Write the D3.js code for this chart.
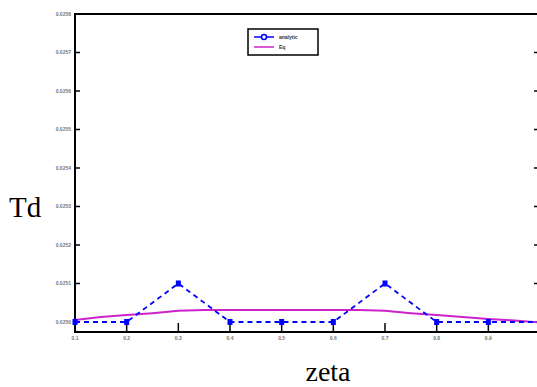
<!DOCTYPE html>
<html>
<head>
<meta charset="utf-8">
<script src="https://cdn.jsdelivr.net/npm/d3@7"></script>
<style>
  body { margin: 0; background: #fff; }
  svg { display: block; }
</style>
</head>
<body>
<svg id="chart" width="537" height="387"></svg>
<script>
const W = 537, H = 387;

// data
const zeta = [0.1, 0.2, 0.3, 0.4, 0.5, 0.6, 0.7, 0.8, 0.9, 1.0];
const tdNum = [0.02500, 0.02500, 0.02510, 0.02500, 0.02500, 0.02500, 0.02510, 0.02500, 0.02500, 0.02500];
const zetaEq = [0.1, 0.15, 0.2, 0.25, 0.3, 0.35, 0.4, 0.5, 0.6, 0.65, 0.7, 0.75, 0.8, 0.85, 0.9, 0.95, 1.0];
const tdEq = [0.025005, 0.025013, 0.025018, 0.025023, 0.025029, 0.025031, 0.025031, 0.025031, 0.025031, 0.025031,
              0.025029, 0.025023, 0.025018, 0.025013, 0.025008, 0.025004, 0.024999];
const xTicks = [0.1, 0.2, 0.3, 0.4, 0.5, 0.6, 0.7, 0.8, 0.9];
const yTicks = [0.0250, 0.0251, 0.0252, 0.0253, 0.0254, 0.0255, 0.0256, 0.0257, 0.0258];
const legendLabels = ["analytic", "Eq"];

const svg = d3.select("#chart");

const x = d3.scaleLinear().domain([0.1, 1.0]).range([75, 540]);
const y = d3.scaleLinear().domain([0.024974, 0.0258]).range([332, 14]);

// frame
svg.append("rect")
    .attr("x", 75).attr("y", 14)
    .attr("width", 465).attr("height", 318)
    .attr("fill", "none").attr("stroke", "#000").attr("stroke-width", 2);

// y ticks, left and right, pointing inward
svg.append("g").selectAll("line.yl")
    .data(yTicks).enter().append("line")
    .attr("x1", 75).attr("x2", 80)
    .attr("y1", d => y(d)).attr("y2", d => y(d))
    .attr("stroke", "#000").attr("stroke-width", 1.5);
svg.append("g").selectAll("line.yr")
    .data(yTicks).enter().append("line")
    .attr("x1", 534).attr("x2", 540)
    .attr("y1", d => y(d)).attr("y2", d => y(d))
    .attr("stroke", "#000").attr("stroke-width", 1.5);
svg.append("g").selectAll("text")
    .data(yTicks).enter().append("text")
    .attr("x", 71).attr("y", d => y(d) + 2)
    .attr("text-anchor", "end")
    .attr("font-family", "Liberation Sans, Arial, sans-serif")
    .attr("font-size", 5).attr("font-weight", "bold").attr("fill", "#777")
    .text(d => d.toFixed(4));

// x ticks
svg.append("g").selectAll("line")
    .data(xTicks).enter().append("line")
    .attr("x1", d => x(d)).attr("x2", d => x(d))
    .attr("y1", 332).attr("y2", 323)
    .attr("stroke", "#000").attr("stroke-width", 1.5);
svg.append("g").selectAll("text")
    .data(xTicks).enter().append("text")
    .attr("x", d => x(d)).attr("y", 340)
    .attr("text-anchor", "middle")
    .attr("font-family", "Liberation Sans, Arial, sans-serif")
    .attr("font-size", 5).attr("font-weight", "bold").attr("fill", "#777")
    .text(d => d.toFixed(1));

// axis titles
svg.append("text")
    .attr("x", 9).attr("y", 217)
    .attr("font-family", "Liberation Serif, Times New Roman, serif")
    .attr("font-size", 29).attr("fill", "#000")
    .text("Td");
svg.append("text")
    .attr("x", 328).attr("y", 381)
    .attr("text-anchor", "middle")
    .attr("font-family", "Liberation Serif, Times New Roman, serif")
    .attr("font-size", 28).attr("fill", "#000")
    .text("zeta");

const line = d3.line().x(d => x(d[0])).y(d => y(d[1]));

// magenta equation line
svg.append("path")
    .datum(d3.zip(zetaEq, tdEq))
    .attr("d", line)
    .attr("fill", "none")
    .attr("stroke", "#cc22cc").attr("stroke-width", 2);

// blue dashed series with square markers
const numData = d3.zip(zeta, tdNum);
svg.append("path")
    .datum(numData)
    .attr("d", line)
    .attr("fill", "none")
    .attr("stroke", "#0000ff").attr("stroke-width", 1.8)
    .attr("stroke-dasharray", "5,4");
svg.append("g").selectAll("rect")
    .data(numData.slice(0, 9)).enter().append("rect")
    .attr("x", d => x(d[0]) - 2.5).attr("y", d => y(d[1]) - 3)
    .attr("width", 5).attr("height", 6)
    .attr("fill", "#0000ff");

// legend
const lg = svg.append("g").attr("transform", "translate(248,29)");
lg.append("rect")
    .attr("width", 70).attr("height", 26)
    .attr("fill", "#fff").attr("stroke", "#000").attr("stroke-width", 1.5);
lg.append("line")
    .attr("x1", 6).attr("x2", 26).attr("y1", 8).attr("y2", 8)
    .attr("stroke", "#0000ff").attr("stroke-width", 1.5);
lg.append("circle")
    .attr("cx", 16).attr("cy", 8).attr("r", 2.5)
    .attr("fill", "#fff").attr("stroke", "#0000ff").attr("stroke-width", 1.5);
lg.append("line")
    .attr("x1", 6).attr("x2", 26).attr("y1", 18).attr("y2", 18)
    .attr("stroke", "#cc22cc").attr("stroke-width", 1.5);
lg.selectAll("text")
    .data(legendLabels).enter().append("text")
    .attr("x", 31).attr("y", (d, i) => 10 + i * 10)
    .attr("font-family", "Liberation Sans, Arial, sans-serif")
    .attr("font-size", 5).attr("font-weight", "bold").attr("fill", "#333")
    .text(d => d);
</script>
</body>
</html>
